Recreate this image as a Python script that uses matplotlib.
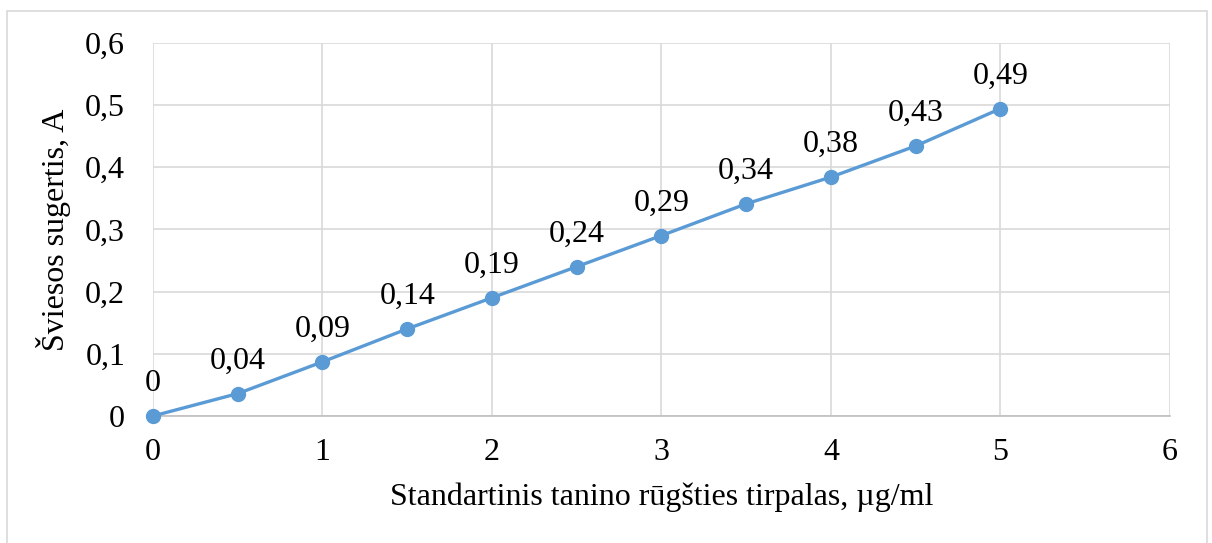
import matplotlib
matplotlib.use("Agg")
import matplotlib.pyplot as plt
from matplotlib.patches import Rectangle

# tannic acid standard: concentration vs absorbance
concentration = [0, 0.5, 1, 1.5, 2, 2.5, 3, 3.5, 4, 4.5, 5]
absorbance = [0, 0.036, 0.087, 0.14, 0.19, 0.24, 0.29, 0.341, 0.384, 0.434, 0.494]
x_ticks = [0, 1, 2, 3, 4, 5, 6]
y_ticks = [0, 0.1, 0.2, 0.3, 0.4, 0.5, 0.6]

plt.rcParams['font.family'] = ['Liberation Serif', 'DejaVu Serif']

def lt_fmt(v, digits):
    s = f"{v:.{digits}f}".replace(".", ",")
    return "0" if float(f"{v:.{digits}f}") == 0 else s

fig = plt.figure(figsize=(12.12, 5.43), dpi=100)
ax = fig.add_axes([0.1262, 0.2339, 0.8391, 0.6875])

# outer chart border
W, H = 1212, 543
fig.patches.append(Rectangle((7 / W, -0.05), 1200 / W, 1 - 11 / H + 0.05,
                             transform=fig.transFigure, fill=False,
                             edgecolor='#d9d9d9', linewidth=1.2))

ax.plot(concentration, absorbance, color='#5b9bd5', linewidth=2.4,
        marker='o', markersize=10, zorder=3, clip_on=False)

for x, y in zip(concentration, absorbance):
    ax.annotate(lt_fmt(y, 2), (x, y), xytext=(0, 13), textcoords='offset points',
                ha='center', va='bottom', fontsize=23)

ax.set_xlim(0, 6)
ax.set_ylim(0, 0.6)
ax.set_xticks(x_ticks)
ax.set_yticks(y_ticks)
ax.set_xticklabels([str(t) for t in x_ticks])
ax.set_yticklabels([lt_fmt(t, 1) for t in y_ticks])
ax.tick_params(length=0, labelsize=23, pad=16)
ax.tick_params(axis='y', pad=20)
ax.grid(True, color='#d9d9d9', linewidth=1.2)
ax.set_axisbelow(True)
for side in ['top', 'right', 'left']:
    ax.spines[side].set_visible(False)
ax.spines['bottom'].set_color('#bfbfbf')
ax.spines['bottom'].set_linewidth(1.2)

ax.set_xlabel("Standartinis tanino rūgšties tirpalas, µg/ml", fontsize=23, labelpad=11)
ax.set_ylabel("Šviesos sugertis, A", fontsize=23, labelpad=10)

fig.savefig("out.png", dpi=100)
